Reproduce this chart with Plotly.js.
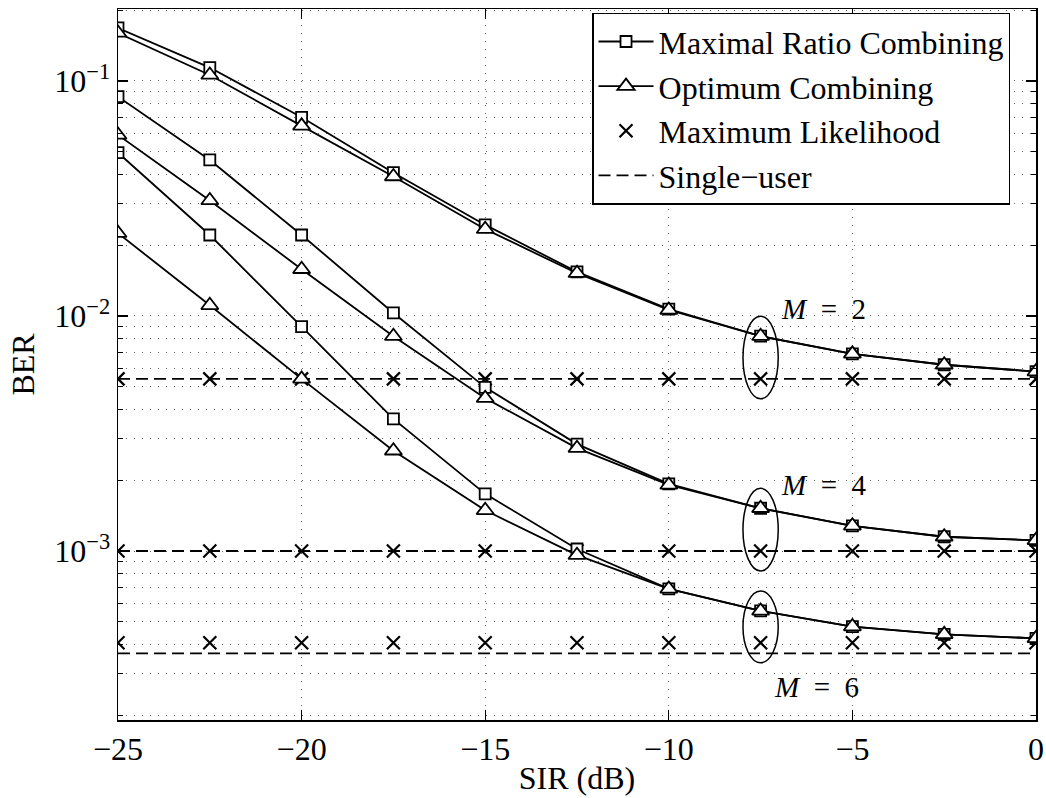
<!DOCTYPE html>
<html>
<head>
<meta charset="utf-8">
<script src="https://cdn.plot.ly/plotly-3.0.1.min.js"></script>
<style>
  html, body { margin: 0; padding: 0; background: #fff; }
  #chart { width: 1046px; height: 798px; }
</style>
</head>
<body>
<div id="chart"></div>
<script>
// ---- data ----
const sir = [-25, -22.5, -20, -17.5, -15, -12.5, -10, -7.5, -5, -2.5, 0];

const mrcM2 = [0.168, 0.114, 0.070, 0.0407, 0.0244, 0.0154, 0.0107, 0.0082, 0.0069, 0.0062, 0.0058];
const ocM2  = [0.160, 0.106, 0.0644, 0.0392, 0.0234, 0.0152, 0.0106, 0.0082, 0.0069, 0.0062, 0.0058];
const mrcM4 = [0.0857, 0.0461, 0.0221, 0.0103, 0.00497, 0.00285, 0.00193, 0.00152, 0.00128, 0.00115, 0.00111];
const ocM4  = [0.0589, 0.0310, 0.0158, 0.0082, 0.00447, 0.00274, 0.00191, 0.00152, 0.00128, 0.00115, 0.00111];
const mrcM6 = [0.0495, 0.0221, 0.0090, 0.00365, 0.00175, 0.00102, 0.00069, 0.000556, 0.000477, 0.000442, 0.000425];
const ocM6  = [0.0225, 0.0111, 0.0054, 0.00267, 0.00149, 0.00096, 0.00069, 0.000556, 0.000477, 0.000442, 0.000425];

const mlM2 = [0.0054, 0.0054, 0.0054, 0.0054, 0.0054, 0.0054, 0.0054, 0.0054, 0.0054, 0.0054, 0.0054];
const mlM4 = [0.00100, 0.00100, 0.00100, 0.00100, 0.00100, 0.00100, 0.00100, 0.00100, 0.00100, 0.00100, 0.00100];
const mlM6 = [0.000407, 0.000407, 0.000407, 0.000407, 0.000407, 0.000407, 0.000407, 0.000407, 0.000407, 0.000407, 0.000407];

const suX  = [-25, 0];
const suM2 = [0.0054, 0.0054];
const suM4 = [0.00100, 0.00100];
const suM6 = [0.000367, 0.000367];

const xTickVals = [-25, -20, -15, -10, -5, 0];
const xTickText = ['\u221225', '\u221220', '\u221215', '\u221210', '\u22125', '0'];
const yTickVals = [0.001, 0.01, 0.1];
const yTickText = ['10<sup>\u22123</sup>', '10<sup>\u22122</sup>', '10<sup>\u22121</sup>'];

const labels = ['Maximal Ratio Combining', 'Optimum Combining', 'Maximum Likelihood', 'Single\u2212user'];
const mLabels = ['<i>M</i>\u2002=\u20022', '<i>M</i>\u2002=\u20024', '<i>M</i>\u2002=\u20026'];

// ---- styling ----
const FONT = '"Liberation Serif", "Times New Roman", Times, serif';
const LW = 1.8;
const Y_RANGE = [-3.719, -0.694];

function curve(y, name, sym, size, show, rank) {
  return {
    x: sir, y: y, type: 'scatter', mode: 'lines+markers',
    name: name, legendgroup: name, showlegend: show, legendrank: rank,
    line: { color: 'black', width: LW },
    marker: { symbol: sym, size: size, color: 'white', line: { color: 'black', width: LW } }
  };
}
function ml(y, show) {
  return {
    x: sir, y: y, type: 'scatter', mode: 'markers',
    name: labels[2], legendgroup: 'ml', showlegend: show, legendrank: 3,
    marker: { symbol: 'x-thin-open', size: 13, color: 'black', line: { color: 'black', width: 2.2 } }
  };
}
function su(y, show) {
  return {
    x: suX, y: y, type: 'scatter', mode: 'lines',
    name: labels[3], legendgroup: 'su', showlegend: show, legendrank: 4,
    line: { color: 'black', width: LW, dash: '12px,6px' }
  };
}

const traces = [
  su(suM2, true), su(suM4, false), su(suM6, false),
  ml(mlM2, true), ml(mlM4, false), ml(mlM6, false),
  curve(mrcM2, labels[0], 'square', 11, true, 1),
  curve(mrcM4, labels[0], 'square', 11, false, 1),
  curve(mrcM6, labels[0], 'square', 11, false, 1),
  curve(ocM2, labels[1], 'triangle-up', 15, true, 2),
  curve(ocM4, labels[1], 'triangle-up', 15, false, 2),
  curve(ocM6, labels[1], 'triangle-up', 15, false, 2)
];

// minor log ticks 2..9 per decade
const minorVals = [];
[1e-4, 1e-3, 1e-2, 1e-1].forEach(function (d) {
  for (let k = 2; k <= 9; k++) minorVals.push(k * d);
});

// paper fraction for a BER value on the log axis
function yPaper(logv) { return (logv - Y_RANGE[0]) / (Y_RANGE[1] - Y_RANGE[0]); }

// ellipses around the OC and ML markers at -7.5 dB
const ellipseIdx = 7;
const groups = [[ocM2, mlM2], [ocM4, mlM4], [ocM6, mlM6]];
const shapes = groups.map(function (g) {
  return {
    type: 'circle', xref: 'x', yref: 'paper', layer: 'above',
    x0: sir[ellipseIdx] - 0.48, x1: sir[ellipseIdx] + 0.48,
    y0: yPaper(Math.log10(g[1][ellipseIdx]) - 0.085),
    y1: yPaper(Math.log10(g[0][ellipseIdx]) + 0.085),
    line: { color: 'black', width: 1.5 }, fillcolor: 'rgba(0,0,0,0)'
  };
});

const annotations = [
  { x: -7.0, y: Math.log10(0.0107), text: mLabels[0] },
  { x: -7.0, y: Math.log10(0.00191), text: mLabels[1] },
  { x: -7.2, y: Math.log10(0.000264), text: mLabels[2] }
].map(function (a) {
  return Object.assign({ xref: 'x', yref: 'y', showarrow: false, xanchor: 'left', yanchor: 'middle',
    font: { family: FONT, size: 29, color: 'black' } }, a);
});

const gridStyle = { gridcolor: '#666', gridwidth: 1, griddash: '1px,7px' };

const layout = {
  width: 1046, height: 798,
  margin: { l: 118, r: 10, t: 9, b: 78 },
  paper_bgcolor: 'white', plot_bgcolor: 'white',
  font: { family: FONT, size: 32, color: 'black' },
  showlegend: true,
  legend: {
    x: 0.9717, xanchor: 'right', y: 0.9948, yanchor: 'top',
    bgcolor: 'white', bordercolor: 'black', borderwidth: 1.5,
    font: { family: FONT, size: 32, color: 'black' },
    itemwidth: 55, tracegroupgap: 0, traceorder: 'normal'
  },
  xaxis: Object.assign({
    range: [-25, 0], tickmode: 'array', tickvals: xTickVals, ticktext: xTickText,
    ticks: 'inside', ticklen: 10, tickwidth: 1.2, tickcolor: 'black',
    showline: true, linecolor: 'black', linewidth: 1.5, mirror: 'ticks',
    showgrid: true, zeroline: false,
    tickfont: { family: FONT, size: 32, color: 'black' },
    title: { text: 'SIR (dB)', font: { family: FONT, size: 32, color: 'black' }, standoff: 0 }
  }, gridStyle),
  yaxis: Object.assign({
    type: 'log', range: Y_RANGE,
    tickmode: 'array', tickvals: yTickVals, ticktext: yTickText,
    ticks: 'inside', ticklen: 10, tickwidth: 1.2, tickcolor: 'black',
    showline: true, linecolor: 'black', linewidth: 1.5, mirror: 'ticks',
    showgrid: true, zeroline: false,
    tickfont: { family: FONT, size: 32, color: 'black' },
    title: { text: 'BER', font: { family: FONT, size: 32, color: 'black' }, standoff: 10 },
    minor: Object.assign({ tickmode: 'array', tickvals: minorVals, ticks: 'inside', ticklen: 5,
      tickwidth: 1, tickcolor: 'black', showgrid: true }, gridStyle)
  }, gridStyle),
  shapes: shapes,
  annotations: annotations
};

Plotly.newPlot('chart', traces, layout, { staticPlot: true, displayModeBar: false });
</script>
</body>
</html>
